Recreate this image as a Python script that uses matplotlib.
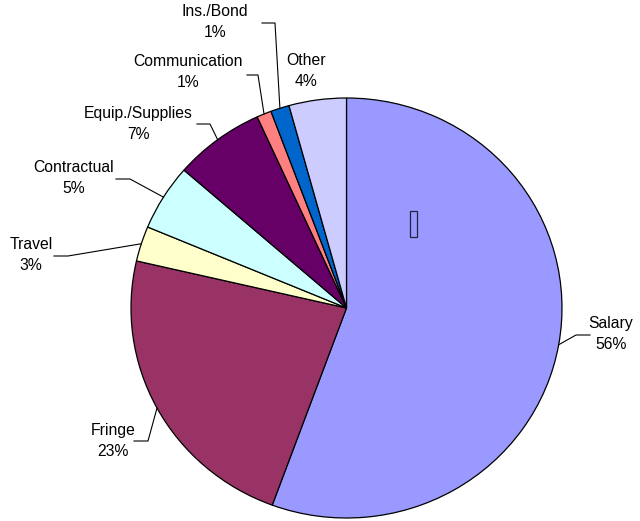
import numpy as np
import matplotlib
matplotlib.use('Agg')
import matplotlib.pyplot as plt
from matplotlib.patches import Rectangle
from matplotlib.transforms import Affine2D

plt.rcParams['font.family'] = ['Liberation Sans', 'DejaVu Sans']

# budget shares (percent)
categories = ['Salary', 'Fringe', 'Travel', 'Contractual', 'Equip./Supplies',
              'Communication', 'Ins./Bond', 'Other']
shares = [55.6, 23.0, 2.7, 5.1, 6.8, 1.1, 1.4, 4.3]
colors = ['#9999FF', '#993366', '#FFFFCC', '#CCFFFF', '#660066',
          '#FF8080', '#0066CC', '#CCCCFF']

# label layout in pixels (top-left origin): text centre, leader start, elbow
label_xy = [(611, 334), (113, 441), (31, 255), (74, 178), (138, 124),
            (188, 72), (215, 22), (306, 71)]
leader_start = [(590, 335), (134, 441), (54, 256), (116, 179), (197, 124),
                (247, 75), (262, 23), None]
leader_elbow = [(576, 335), (148, 441), (68, 256), (130, 179), (210, 124),
                (258, 75), (275, 23), None]

W, H = 640, 521
cx, cy = 346.5, 308
rx, ry = 215.5, 210   # pie is drawn slightly wide in the original

fig = plt.figure(figsize=(W / 100, H / 100), dpi=100)
ax = fig.add_axes([0, 0, 1, 1])

wedges, _ = ax.pie(shares, colors=colors, startangle=90, counterclock=False,
                   center=(0, 0), radius=1, frame=True,
                   wedgeprops=dict(edgecolor='black', linewidth=0.9))
ax.set_aspect('auto')
ax.set_xlim(-cx / rx, (W - cx) / rx)
ax.set_ylim(-(H - cy) / ry, cy / ry)
ax.axis('off')

# pixel coords, origin top-left
pix = Affine2D().scale(1 / 100, -1 / 100).translate(0, H / 100) + fig.dpi_scale_trans

total = sum(shares)
for i, (name, val) in enumerate(zip(categories, shares)):
    tx, ty = label_xy[i]
    ax.text(tx, ty, '%s\n%d%%' % (name, round(val / total * 100)),
            transform=pix, ha='center', va='center', fontsize=11.3,
            linespacing=1.45)
    if leader_start[i] is None:
        continue
    w = wedges[i]
    mid = np.deg2rad((w.theta1 + w.theta2) / 2)
    px = cx + rx * np.cos(mid)
    py = cy - ry * np.sin(mid)
    sx, sy = leader_start[i]
    ex, ey = leader_elbow[i]
    ax.plot([sx, ex, px], [sy, ey, py], color='black', lw=0.8, transform=pix)

# stray missing-glyph box inside the Salary slice
ax.add_patch(Rectangle((410, 237), 7, -26, fill=False, transform=pix,
                       edgecolor='#222244', lw=0.9))

fig.savefig('out.png', dpi=100)
